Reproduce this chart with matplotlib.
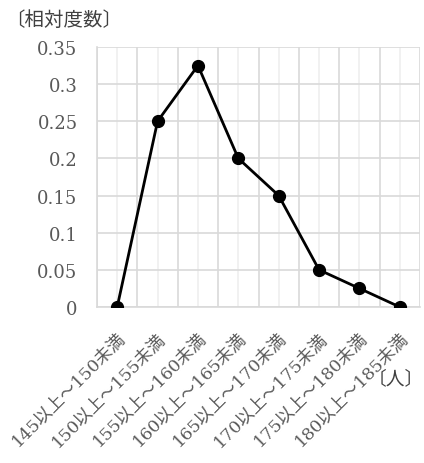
import matplotlib
matplotlib.use("Agg")
import matplotlib.pyplot as plt
import matplotlib.transforms as mtransforms
import numpy as np

CLASSES = [
    "145以上～150未満",
    "150以上～155未満",
    "155以上～160未満",
    "160以上～165未満",
    "165以上～170未満",
    "170以上～175未満",
    "175以上～180未満",
    "180以上～185未満",
]
REL_FREQ = [0.0, 0.25, 0.325, 0.2, 0.15, 0.05, 0.025, 0.0]
Y_TICKS = [0, 0.05, 0.1, 0.15, 0.2, 0.25, 0.3, 0.35]
Y_TICK_LABELS = ["0", "0.05", "0.1", "0.15", "0.2", "0.25", "0.3", "0.35"]

FONT = ["DejaVu Serif", "Noto Sans CJK JP", "DejaVu Sans"]
TEXT_COLOR = "#595959"
plt.rcParams["font.family"] = FONT


def main():
    fig = plt.figure(figsize=(4.24, 4.64), dpi=100)
    ax = fig.add_axes([0.2288, 0.3362, 0.7618, 0.5604])

    x = np.arange(len(CLASSES))
    ax.plot(x, REL_FREQ, color="black", linewidth=2, marker="o", markersize=8.5, zorder=3)

    ax.set_xlim(-0.5, len(CLASSES) - 0.5)
    ax.set_ylim(0, 0.35)

    # class centres carry the labels, class borders carry the darker grid
    ax.set_xticks(x)
    ax.set_xticks(np.arange(len(CLASSES) + 1) - 0.5, minor=True)
    ax.set_xticklabels(CLASSES, rotation=45, ha="right", va="top",
                       rotation_mode="anchor", fontsize=12.5, color=TEXT_COLOR)
    shift = mtransforms.ScaledTranslation(-6 / 100, 0, fig.dpi_scale_trans)
    for label in ax.get_xticklabels():
        label.set_transform(label.get_transform() + shift)
    ax.set_yticks(Y_TICKS)
    ax.set_yticklabels(Y_TICK_LABELS, fontsize=13, color=TEXT_COLOR)
    ax.tick_params(axis="both", which="both", length=0)
    ax.tick_params(axis="x", pad=16)
    ax.tick_params(axis="y", pad=14)

    ax.grid(axis="x", which="major", color="#efefef", linewidth=1.2)
    ax.grid(axis="x", which="minor", color="#d9d9d9", linewidth=1.2)
    ax.grid(axis="y", which="major", color="#d9d9d9", linewidth=1.2)
    ax.set_axisbelow(True)
    for side in ["top", "right"]:
        ax.spines[side].set_visible(False)
    for side in ["left", "bottom"]:
        ax.spines[side].set_color("#d9d9d9")
        ax.spines[side].set_linewidth(1.2)

    fig.text(0.012, 0.955, "〔相対度数〕", fontsize=14, color="#404040",
             ha="left", va="center")
    fig.text(1.0, 0.183, "〔人〕", fontsize=13.5, color="#404040",
             ha="right", va="center")

    fig.savefig("out.png", dpi=100)


if __name__ == "__main__":
    main()
